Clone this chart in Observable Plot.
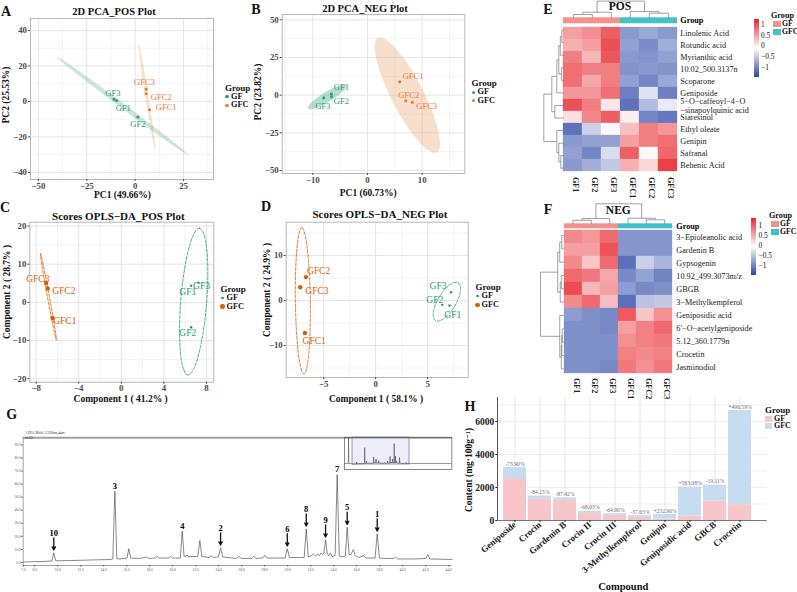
<!DOCTYPE html>
<html>
<head>
<meta charset="utf-8">
<script src="https://cdn.jsdelivr.net/npm/d3@7"></script>
<script src="https://cdn.jsdelivr.net/npm/@observablehq/plot@0.6"></script>
<style>
  html, body { margin: 0; padding: 0; background: #fff; }
  #fig { position: relative; width: 797px; height: 592px; overflow: hidden; background: #fff;
         font-family: "Liberation Serif", "Times New Roman", "DejaVu Serif", serif; }
  #fig svg { position: absolute; }
  .bt [aria-label$="tick label"] text { font-weight: bold; }
</style>
</head>
<body>
<div id="fig"></div>
<script>
// ---------------- data ----------------
const groups = ["GF", "GFC"];
const sampleNames = ["GF1", "GF2", "GF3", "GFC1", "GFC2", "GFC3"];
const sampleGroup = ["GF", "GF", "GF", "GFC", "GFC", "GFC"];

// PCA scores (positive / negative ion mode)
const pcaPosPC1 = [-9.6, 1.4, -11.0, 7.4, 5.7, 5.7];
const pcaPosPC2 = [0.5, -8.8, 1.3, -4.7, 4.3, 6.9];
const pcaNegPC1 = [-6.6, -6.6, -8.0, 5.9, 7.0, 8.2];
const pcaNegPC2 = [0.7, -1.1, -1.8, 8.8, -3.8, -4.8];

// OPLS-DA scores (positive / negative ion mode)
const oplsPosC1 = [6.56, 6.56, 7.25, -6.47, -6.91, -7.06];
const oplsPosC2 = [4.35, -6.5, 5.13, -4.1, 3.62, 5.05];
const oplsNegC1 = [7.1, 6.4, 7.25, -6.8, -6.7, -7.25];
const oplsNegC2 = [-1.1, -0.96, 1.85, -7.2, 5.2, 2.96];

// group confidence ellipses: centre, semi-major and semi-minor axis vectors
const pcaPosEllipses = [
  {group: "GF", center: [-6.4, -2.6], major: [34, -27.7], minor: [-0.78, -1.12]},
  {group: "GFC", center: [6.1, 2.46], major: [4.4, -30.4], minor: [0.77, 0.13]}
];
const pcaNegEllipses = [
  {group: "GF", center: [-7.35, -1.1], major: [3.51, 7.76], minor: [0.475, -2.83]},
  {group: "GFC", center: [7.3, 0], major: [5.36, -38], minor: [2.62, 4.84]}
];
const oplsPosEllipses = [
  {group: "GF", center: [6.8, 0.2], major: [0.53, 19.2], minor: [1.22, -0.05]},
  {group: "GFC", center: [-6.85, 1.45], major: [-0.75, 11.35], minor: [0.09, 0.05]}
];
const oplsNegEllipses = [
  {group: "GF", center: [6.85, -0.27], major: [1.09, 4.18], minor: [0.74, -1.03]},
  {group: "GFC", center: [-7.0, -0.1], major: [-0.1, 16.2], minor: [0.72, 0]}
];

// heatmap E (POS): scaled abundance, columns GF1..GFC3
const posMetabolites = ["Linolenic Acid", "Rotundic acid", "Myrianthic acid", "10.02_500.3137n", "Scoparone",
  "Geniposide", "5\u2212O\u2212caffeoyl\u22124\u2212O\n\u2212sinapoylquinic acid", "Siaresinol", "Ethyl oleate",
  "Genipin", "Safranal", "Behenic Acid"];
const posScaled = [
  [0.55, 0.65, 0.95, -0.8, -0.7, -0.8],
  [0.45, 0.55, 1.05, -0.75, -0.9, -0.65],
  [0.75, 0.4, 1.0, -0.8, -0.85, -0.75],
  [0.85, 0.75, 0.75, -0.85, -0.8, -0.85],
  [0.85, 0.5, 0.75, -0.75, -0.95, -0.7],
  [0.6, 0.6, 0.85, -1.0, -0.25, -1.0],
  [1.05, 0.75, 0.1, -1.1, -0.55, -0.2],
  [0.15, 0.7, 0.95, 0.05, -0.95, -1.05],
  [-1.1, -0.4, 0.0, 0.35, 0.75, 0.6],
  [-0.8, -0.75, -0.75, 0.55, 0.75, 0.85],
  [-0.75, -0.95, -0.3, 0.95, 0.0, 0.9],
  [-0.8, -0.65, -0.45, 0.45, 0.2, 1.15]
];
// hierarchical clustering merges: [childA, childB, height]
const posRowMerges = [[0, 1, 2], [12, 2, 3.5], [3, 4, 2.5], [13, 14, 5], [15, 5, 7], [6, 7, 9],
  [16, 17, 12], [10, 11, 3], [9, 19, 5], [8, 20, 7], [18, 21, 20]];
const posColMerges = [[0, 1, 3.3], [6, 2, 5.6], [4, 5, 4.6], [3, 8, 6.3], [7, 9, 16.8]];

// heatmap F (NEG)
const negMetabolites = ["3\u2212Epioleanolic acid", "Gardenin B", "Gypsogenin", "10.92_499.3073m/z", "GBGB",
  "3\u2212Methylkempferol", "Geniposidic acid", "6\u2032\u2212O\u2212acetylgeniposide", "5.12_360.1779n",
  "Crocetin", "Jasminodiol"];
const negScaled = [
  [0.75, 0.65, 0.95, -0.85, -0.85, -0.85],
  [0.6, 0.6, 1.1, -0.85, -0.85, -0.85],
  [0.75, 0.35, 0.95, -1.15, -0.4, -0.6],
  [0.95, 0.85, 0.55, -0.95, -0.75, -1.0],
  [1.15, 0.45, 0.6, -0.8, -0.95, -0.9],
  [0.75, 0.95, 0.4, -1.15, -0.5, -0.45],
  [-0.8, -0.9, -0.95, 1.05, 0.35, 0.7],
  [-0.9, -0.9, -0.95, 0.6, 0.8, 0.95],
  [-0.9, -0.9, -0.9, 0.7, 0.8, 0.85],
  [-0.9, -0.9, -0.9, 0.8, 0.75, 0.8],
  [-0.9, -0.9, -0.95, 0.85, 0.7, 0.85]
];
const negRowMerges = [[0, 1, 2], [11, 2, 4], [3, 4, 2.5], [13, 5, 3.5], [12, 14, 6], [7, 8, 1.5],
  [16, 9, 2], [17, 10, 2.5], [6, 18, 4], [15, 19, 23]];
const negColMerges = [[0, 1, 3.5], [6, 2, 5.3], [4, 5, 4], [3, 8, 5.6], [7, 9, 20]];

// HPLC chromatogram (retention time in min, absorbance in mAU)
const chromTime = [7.00, 8.94, 9.50, 9.66, 9.83, 11.11, 12.85, 14.59, 14.79, 14.97, 15.14, 15.46, 16.03, 16.18,
  16.35, 17.20, 17.72, 17.90, 18.50, 18.68, 18.85, 19.63, 19.81, 19.98, 20.66, 20.83, 20.99, 21.16, 21.26, 21.37,
  21.72, 22.18, 22.36, 22.53, 23.16, 23.35, 23.53, 23.97, 24.16, 24.36, 25.55, 25.75, 25.95, 26.85, 27.05, 27.25,
  27.81, 28.01, 28.21, 29.77, 29.96, 30.15, 31.43, 31.61, 31.79, 32.07, 32.24, 32.42, 32.59, 32.77, 32.90, 33.03,
  33.14, 33.29, 33.44, 33.59, 33.72, 33.85, 34.01, 34.12, 34.30, 34.48, 34.68, 35.01, 35.17, 35.34, 35.50, 35.70,
  35.88, 36.16, 36.62, 36.81, 37.59, 37.78, 37.97, 38.42, 39.20, 39.37, 39.55, 41.11, 42.03, 42.18, 42.36, 44.30];
const chromSignal = [0.4, 0.8, 1.2, 7.4, 1.3, 1.5, 1.9, 2.3, 2.7, 54.4, 2.8, 2.7, 3.4, 10.5,
  3.4, 3.1, 4.2, 3.1, 3.4, 4.6, 3.4, 3.4, 4.6, 3.4, 3.4, 23.9, 4.6, 5.0, 5.7, 4.2,
  4.6, 4.6, 16.8, 4.6, 3.8, 5.1, 3.8, 4.2, 11.2, 4.2, 3.1, 4.7, 3.1, 3.1, 4.7, 3.1,
  3.4, 5.6, 3.4, 3.4, 10.5, 3.8, 3.8, 25.7, 4.2, 5.3, 6.5, 5.0, 6.5, 5.3, 7.3, 6.1,
  6.9, 17.3, 6.5, 5.3, 7.3, 4.6, 5.0, 5.3, 67.2, 5.0, 4.2, 5.0, 27.0, 6.1, 6.1, 9.9,
  5.0, 3.8, 5.3, 3.4, 3.4, 21.9, 3.4, 3.1, 3.1, 4.2, 2.7, 2.7, 3.1, 6.1, 2.7, 2.3];
// full-run overview shown in the inset: solvent front before, flat tail after
const overviewLeadTime = [1.8, 4.2, 4.4, 4.6, 6.5];
const overviewLeadSignal = [2.5, 2.5, 86, 2.5, 2.0];
const overviewTailTime = [50, 72];
const overviewTailSignal = [2.5, 2.5];

const peakId = ["10", "3", "4", "2", "6", "8", "9", "7", "5", "1"];
const peakTime = [9.66, 14.97, 20.83, 24.16, 29.96, 31.61, 33.29, 34.30, 35.17, 37.78];
const peakSignal = [7.4, 54.4, 23.9, 11.2, 10.5, 25.7, 17.3, 67.2, 27.0, 21.9];
const peakArrow = [true, false, false, true, true, true, true, false, true, true];

// compound content (mg per 100 g)
const compounds = ["Geniposide", "Crocin", "Gardenin B", "Crocin II", "Crocin III", "3-Methylkempferol",
  "Genipin", "Geniposidic acid", "GBCB", "Crocetin"];
const gfContent = [2540, 1280, 1220, 427, 305, 185, 85, 260, 1190, 957];
const gfcContent = [662.9, 202.9, 153.5, 136.5, 107.06, 115.38, 283.02, 1776.0, 962.6, 5709.4];
const contentTicks = [0, 2000, 4000, 6000];

// ---------------- helpers ----------------
const FONT = '"Liberation Serif", "Times New Roman", "DejaVu Serif", serif';
const plotStyle = {background: "transparent", overflow: "visible", fontFamily: FONT, fontSize: "9px"};
const fig = document.getElementById("fig");

function place(node, left, top) {
  node.style.position = "absolute";
  node.style.left = left + "px";
  node.style.top = top + "px";
  fig.appendChild(node);
  return node;
}
function label(s, x, y, o = {}) {
  const d = document.createElement("div");
  d.textContent = s;
  const ax = o.anchor === "start" ? "0%" : o.anchor === "end" ? "-100%" : "-50%";
  Object.assign(d.style, {
    position: "absolute", left: x + "px", top: y + "px", whiteSpace: "pre", lineHeight: "1",
    fontSize: (o.size ?? 9) + "px", fontWeight: o.bold ? "bold" : "normal", color: o.color ?? "#111",
    transform: `translate(${ax},-50%)` + (o.rotate ? ` rotate(${o.rotate}deg)` : "")
  });
  fig.appendChild(d);
  return d;
}
function box(x, y, w, h, style) {
  const d = document.createElement("div");
  Object.assign(d.style, {position: "absolute", left: x + "px", top: y + "px", width: w + "px", height: h + "px"}, style);
  fig.appendChild(d);
}

// ---------------- score plots (A-D) ----------------
function scorePanel(o) {
  const pts = sampleNames.map((name, i) => ({name, group: sampleGroup[i], x: o.x[i], y: o.y[i]}));
  const col = g => o.colors[groups.indexOf(g)];
  const marks = [
    Plot.gridX({ticks: o.xMinor, stroke: "#f3f3f3", strokeOpacity: 1}),
    Plot.gridY({ticks: o.yMinor, stroke: "#f3f3f3", strokeOpacity: 1}),
    Plot.gridX({ticks: o.xTicks, stroke: "#e5e5e5", strokeOpacity: 1}),
    Plot.gridY({ticks: o.yTicks, stroke: "#e5e5e5", strokeOpacity: 1})
  ];
  for (const e of o.ellipses) {
    const ring = d3.range(97).map(k => {
      const t = 2 * Math.PI * k / 96, c = Math.cos(t), s = Math.sin(t);
      return {x: e.center[0] + c * e.major[0] + s * e.minor[0], y: e.center[1] + c * e.major[1] + s * e.minor[1]};
    });
    const gi = groups.indexOf(e.group);
    marks.push(Plot.line(ring, {
      x: "x", y: "y",
      fill: o.ellipseFill ? o.ellipseFill[gi] : "none", fillOpacity: o.ellipseOpacity ?? 1,
      stroke: o.ellipseStroke ? col(e.group) : "none", strokeWidth: 0.8, strokeDasharray: o.dash
    }));
  }
  marks.push(Plot.frame({stroke: "#b8b8b8"}));
  groups.forEach((g, gi) => marks.push(Plot.dot(pts.filter(p => p.group === g),
    {x: "x", y: "y", r: o.r[gi], fill: col(g), stroke: "none"})));
  pts.forEach((p, i) => marks.push(Plot.text([p], {
    x: "x", y: "y", text: "name", fill: col(p.group), fontSize: o.labelSize,
    dx: o.labelNudge[i][0], dy: o.labelNudge[i][1]
  })));
  marks.push(Plot.axisX({ticks: o.xTicks, tickSize: 2, tickPadding: 1, fontSize: 8.8, color: "#4a4a4a", label: null}));
  marks.push(Plot.axisY({ticks: o.yTicks, tickSize: 2, tickPadding: 1.5, fontSize: 8.8, color: "#4a4a4a", label: null}));
  const svg = Plot.plot({
    width: o.w, height: o.h,
    marginLeft: o.m[0], marginTop: o.m[1], marginRight: o.m[2], marginBottom: o.m[3],
    x: {domain: o.xDomain}, y: {domain: o.yDomain}, style: plotStyle, marks
  });
  svg.classList.add("bt");
  place(svg, o.left, o.top);

  label(o.title, o.titlePos[0], o.titlePos[1], {bold: true, size: o.titleSize});
  label(o.xLabel, o.xLabelPos[0], o.xLabelPos[1], {bold: true, size: 9.5});
  label(o.yLabel, o.yLabelPos[0], o.yLabelPos[1], {bold: true, size: 9.5, rotate: -90});
  // group legend
  const [lx, ly] = o.legendPos;
  label("Group", lx, ly, {bold: true, size: 9, anchor: "start"});
  groups.forEach((g, gi) => {
    const yy = ly + o.legendGap * (gi + 1);
    const r = o.r[gi];
    box(lx + 2 - r, yy - r, 2 * r, 2 * r, {borderRadius: "50%", background: o.colors[gi]});
    label(g, lx + 6, yy, {bold: true, size: 8.3, anchor: "start"});
  });
}

const pcaColors = ["#2f9f74", "#e5803a"];
const oplsColors = ["#1b9e77", "#d95f02"];

scorePanel({
  left: 0, top: 0, w: 265, h: 200, m: [30, 18, 52, 21],
  x: pcaPosPC1, y: pcaPosPC2, ellipses: pcaPosEllipses,
  xDomain: [-54.1, 40.5], yDomain: [-44, 46.7],
  xTicks: [-50, -25, 0, 25], yTicks: [-40, -20, 0, 20, 40],
  xMinor: [-37.5, -12.5, 12.5, 37.5], yMinor: [-30, -10, 10, 30],
  colors: pcaColors, ellipseFill: ["#2f9f74", "#e5803a"], ellipseOpacity: 0.25,
  r: [1.6, 1.6], labelSize: 8.5,
  labelNudge: [[6.7, 7.6], [0, 7], [-1, -6], [16.7, -2.3], [15, 3.3], [-1.7, -6.7]],
  title: "2D PCA_POS Plot", titlePos: [114, 12.3], titleSize: 10.5,
  xLabel: "PC1 (49.66%)", xLabelPos: [122.5, 196],
  yLabel: "PC2 (25.53%)", yLabelPos: [7, 95],
  legendPos: [225, 88], legendGap: 8.7
});

scorePanel({
  left: 265, top: 0, w: 265, h: 200, m: [16.7, 14, 65.7, 27],
  x: pcaNegPC1, y: pcaNegPC2, ellipses: pcaNegEllipses,
  xDomain: [-15.6, 17.8], yDomain: [-52, 53.5],
  xTicks: [-10, 0, 10], yTicks: [-50, -25, 0, 25, 50],
  xMinor: [-15, -5, 5, 15], yMinor: [-37.5, -12.5, 12.5, 37.5],
  colors: pcaColors, ellipseFill: ["#2f9f74", "#eca46a"], ellipseOpacity: 0.35,
  r: [1.6, 1.6], labelSize: 8.5,
  labelNudge: [[10, -6.7], [10, 4], [-1, 8.3], [13.3, -5.7], [3, -5.7], [14.4, 4.4]],
  title: "2D PCA_NEG Plot", titlePos: [365, 8.7], titleSize: 10.5,
  xLabel: "PC1 (60.73%)", xLabelPos: [368.3, 193.5],
  yLabel: "PC2 (23.82%)", yLabelPos: [259, 92],
  legendPos: [471.5, 83.3], legendGap: 8.8
});

scorePanel({
  left: 0, top: 195, w: 265, h: 210, m: [29.3, 26.7, 51.7, 23.3],
  x: oplsPosC1, y: oplsPosC2, ellipses: oplsPosEllipses,
  xDomain: [-8.6, 8.69], yDomain: [-20.9, 21],
  xTicks: [-8, -4, 0, 4, 8], yTicks: [-20, -10, 0, 10, 20],
  xMinor: [-6, -2, 2, 6], yMinor: [-15, -5, 5, 15],
  colors: oplsColors, ellipseStroke: true, dash: "3,1.6",
  r: [1.2, 2.2], labelSize: 9.5,
  labelNudge: [[-3.4, 6.6], [-3.4, 6], [3, 3], [12.3, 3], [16, 2.2], [-8.4, -4.5]],
  title: "Scores OPLS\u2212DA_POS Plot", titlePos: [118.3, 215.7], titleSize: 11,
  xLabel: "Component 1 ( 41.2% )", xLabelPos: [120.7, 399.5],
  yLabel: "Component 2 ( 28.7% )", yLabelPos: [7.5, 292],
  legendPos: [220.5, 289], legendGap: 8.8
});

scorePanel({
  left: 265, top: 195, w: 265, h: 210, m: [20.7, 26.7, 62.3, 28],
  x: oplsNegC1, y: oplsNegC2, ellipses: oplsNegEllipses,
  xDomain: [-8.6, 8.9], yDomain: [-17.1, 17.4],
  xTicks: [-5, 0, 5], yTicks: [-10, 0, 10],
  xMinor: [-7.5, -2.5, 2.5, 7.5], yMinor: [-15, -5, 5, 15],
  colors: oplsColors, ellipseStroke: true, dash: "3,1.6",
  r: [1.2, 2.2], labelSize: 9.5,
  labelNudge: [[3.3, 9], [-7.4, -5.3], [-13, -6], [9.3, 8.4], [12.6, -5.7], [16.7, 3.3]],
  title: "Scores OPLS\u2212DA_NEG Plot", titlePos: [380, 214.3], titleSize: 11,
  xLabel: "Component 1 ( 58.1% )", xLabelPos: [376, 399.5],
  yLabel: "Component 2 ( 24.9% )", yLabelPos: [268, 290],
  legendPos: [475.5, 287.2], legendGap: 9
});

// ---------------- clustered heatmaps (E, F) ----------------
const heatLow = "#2b47a6", heatMid = "#ffffff", heatHigh = "#e8262b";
const groupFill = ["#f4928a", "#45c0c6"];

function dendroSegments(merges, n) {
  const pos = d3.range(n), hgt = d3.range(n).map(() => 0), segs = [];
  for (const [a, b, h] of merges) {
    segs.push({p1: pos[a], p2: pos[a], h1: hgt[a], h2: h});
    segs.push({p1: pos[b], p2: pos[b], h1: hgt[b], h2: h});
    segs.push({p1: pos[a], p2: pos[b], h1: h, h2: h});
    pos.push((pos[a] + pos[b]) / 2);
    hgt.push(h);
  }
  return segs;
}

function heatmapPanel(o) {
  const W = o.w, H = o.h;
  const cells = o.rows.flatMap((row, i) => sampleNames.map((sample, j) => ({row, sample, v: o.values[i][j]})));
  // cells, row names, column names
  place(Plot.plot({
    width: W, height: H, style: plotStyle,
    marginLeft: o.cx0, marginRight: W - o.cx1, marginTop: o.cy0, marginBottom: H - o.cy1,
    x: {domain: sampleNames, padding: 0, axis: null},
    y: {domain: o.rows, padding: 0, axis: null},
    color: {type: "linear", domain: o.colorDomain, range: [heatLow, heatMid, heatHigh], clamp: true},
    marks: [
      Plot.cell(cells, {x: "sample", y: "row", fill: "v", stroke: "v", strokeWidth: 0.3}),
      Plot.text(o.rows, {y: d => d, text: d => d, frameAnchor: "right", textAnchor: "start", dx: 2.5,
        fontSize: 8.2, fill: "#222", lineHeight: 1.05}),
      Plot.text(sampleNames, {x: d => d, text: d => d, frameAnchor: "bottom", rotate: 90, textAnchor: "start",
        dy: 2.5, fontSize: 8.2, fontWeight: "bold", fill: "#222"})
    ]
  }), o.left, o.top);
  // group annotation bar
  place(Plot.plot({
    width: W, height: H, style: plotStyle,
    marginLeft: o.cx0, marginRight: W - o.cx1, marginTop: o.gy0, marginBottom: H - o.cy0,
    x: {domain: sampleNames, padding: 0, axis: null},
    color: {domain: groups, range: groupFill},
    marks: [
      Plot.cell(sampleNames.map((s, i) => ({s, g: sampleGroup[i]})), {x: "s", fill: "g"}),
      Plot.text(["Group"], {frameAnchor: "right", textAnchor: "start", dx: 2.5, fontSize: 8.2, fontWeight: "bold"})
    ]
  }), o.left, o.top);
  // row dendrogram
  const rowSegs = dendroSegments(o.rowMerges, o.rows.length);
  const rowMax = d3.max(o.rowMerges, d => d[2]);
  place(Plot.plot({
    width: W, height: H, style: plotStyle,
    x: {domain: [0, rowMax], range: [o.cx0, o.rowRootX], axis: null},
    y: {domain: [-0.5, o.rows.length - 0.5], range: [o.cy0, o.cy1], axis: null},
    marks: [Plot.link(rowSegs, {x1: "h1", x2: "h2", y1: "p1", y2: "p2", stroke: "#7a7a7a", strokeWidth: 0.7})]
  }), o.left, o.top);
  // column dendrogram
  const colSegs = dendroSegments(o.colMerges, sampleNames.length);
  const colMax = d3.max(o.colMerges, d => d[2]);
  place(Plot.plot({
    width: W, height: H, style: plotStyle,
    x: {domain: [-0.5, sampleNames.length - 0.5], range: [o.cx0, o.cx1], axis: null},
    y: {domain: [0, colMax], range: [o.gy0, o.colRootY], axis: null},
    marks: [Plot.link(colSegs, {x1: "p1", x2: "p2", y1: "h1", y2: "h2", stroke: "#7a7a7a", strokeWidth: 0.7})]
  }), o.left, o.top);

  label(o.title, o.titlePos[0], o.titlePos[1], {bold: true, size: 11.5});
  // colour key
  const [bx, by, bw, bh] = o.bar;
  box(bx, by, bw, bh, {background: `linear-gradient(to bottom, ${heatHigh}, ${heatMid} 50%, ${heatLow})`});
  o.barTicks.forEach(([t, yy]) => label(t, bx + bw + 2.5, yy, {size: 7.4, anchor: "start"}));
  // group key
  const [gx, gy] = o.groupKey;
  label("Group", gx, gy, {bold: true, size: 8.2, anchor: "start"});
  groups.forEach((g, gi) => {
    const yy = gy + 8 * (gi + 1);
    box(gx + 1.5, yy - 3, 8, 6, {background: groupFill[gi]});
    label(g, gx + 11, yy, {bold: true, size: 7.8, anchor: "start"});
  });
}

heatmapPanel({
  left: 530, top: 0, w: 267, h: 195,
  rows: posMetabolites, values: posScaled, rowMerges: posRowMerges, colMerges: posColMerges,
  cx0: 33.3, cx1: 147.3, cy0: 23.3, cy1: 174, gy0: 17.3, rowRootX: 13.3, colRootY: 0.6,
  colorDomain: [-1.42, -0.05, 1.31],
  title: "POS", titlePos: [620, 6.5],
  bar: [754, 19, 4.5, 57.7],
  barTicks: [["1", 25], ["0.5", 35.5], ["0", 46.3], ["\u22120.5", 57], ["\u22121", 67.7]],
  groupKey: [771, 15.5]
});

heatmapPanel({
  left: 530, top: 195, w: 267, h: 200,
  rows: negMetabolites, values: negScaled, rowMerges: negRowMerges, colMerges: negColMerges,
  cx0: 33.3, cx1: 143.3, cy0: 33.3, cy1: 180, gy0: 28.3, rowRootX: 10, colRootY: 8.3,
  colorDomain: [-1.47, -0.03, 1.4],
  title: "NEG", titlePos: [618.3, 210.5],
  bar: [750.7, 217.7, 5.3, 57.3],
  barTicks: [["1", 225.7], ["0.5", 236.2], ["0", 246.2], ["\u22120.5", 256.2], ["\u22121", 265.7]],
  groupKey: [769, 216.2]
});

// ---------------- chromatogram (G) ----------------
const trace = chromTime.map((t, i) => ({t, v: chromSignal[i]}));
const peaks = peakId.map((id, i) => ({id, t: peakTime[i], h: peakSignal[i], arrow: peakArrow[i]}));
const gX = [7, 44.3], gY = [-2.3, 95.4];

place(Plot.plot({
  width: 460, height: 150, style: plotStyle,
  marginLeft: 22.7, marginTop: 12.3, marginRight: 8.3, marginBottom: 10,
  x: {domain: gX}, y: {domain: gY},
  marks: [
    Plot.ruleY([gY[0]], {stroke: "#666", strokeWidth: 0.6}),
    Plot.ruleX([gX[0]], {stroke: "#666", strokeWidth: 0.6}),
    Plot.ruleY([gY[1]], {stroke: "#a0a0a0", strokeWidth: 2}),
    Plot.axisY({ticks: d3.range(0, 100, 10), tickSize: 1.5, tickPadding: 1, fontSize: 3.6,
      tickFormat: d3.format(".1f"), color: "#555", label: null}),
    Plot.axisX({ticks: [7, ...d3.range(8, 45, 2)], tickSize: 1.5, tickPadding: 1, fontSize: 3.6,
      tickFormat: d3.format(".1f"), color: "#555", label: null}),
    Plot.line(trace, {x: "t", y: "v", stroke: "#3a3a3a", strokeWidth: 0.6}),
    Plot.text(peaks.filter(p => !p.arrow), {x: "t", y: "h", text: "id", dy: -5, fontSize: 8.5, fontWeight: "bold"}),
    Plot.text(peaks.filter(p => p.arrow), {x: "t", y: "h", text: "id", dy: -20, fontSize: 8.5, fontWeight: "bold"}),
    Plot.arrow(peaks.filter(p => p.arrow), {x: "t", y1: d => d.h + 11.5, y2: d => d.h + 2.2,
      stroke: "#111", strokeWidth: 1.3, headLength: 4, headAngle: 55})
  ]
}), 0, 425);

// overview inset
const overview = [
  ...overviewLeadTime.map((t, i) => ({t, v: overviewLeadSignal[i]})),
  ...trace,
  ...overviewTailTime.map((t, i) => ({t, v: overviewTailSignal[i]}))
];
const oX = [1.76, 72.05], oY = [-17, 87.2];
place(Plot.plot({
  width: 107.4, height: 32, style: plotStyle,
  marginLeft: 0, marginTop: 0, marginRight: 0, marginBottom: 0,
  x: {domain: oX, axis: null}, y: {domain: oY, axis: null},
  marks: [
    Plot.rect([gX], {x1: d => d[0], x2: d => d[1], y1: -0.8, y2: oY[1],
      fill: "#c8c8ee", fillOpacity: 0.3, stroke: "#7d7dc9", strokeWidth: 0.8}),
    Plot.line(overview, {x: "t", y: "v", stroke: "#333", strokeWidth: 0.5, clip: true}),
    Plot.frame({stroke: "#555", strokeWidth: 0.7})
  ]
}), 344.3, 437.3);

label("1 PDA Multi 1/238nm,4nm", 25, 434.2, {size: 3.6, anchor: "start", color: "#333"});
label("mAU", 25, 438.6, {size: 3.6, anchor: "start", color: "#333"});

// ---------------- content bar chart (H) ----------------
const contentRows = compounds.flatMap((c, i) => [
  {compound: c, group: "GF", value: gfContent[i]},
  {compound: c, group: "GFC", value: gfcContent[i]}
]);
const changeRows = compounds.map((c, i) => ({
  compound: c, total: gfContent[i] + gfcContent[i],
  change: (gfcContent[i] - gfContent[i]) / gfContent[i] * 100
}));
const fmtChange = p => (p > 0 ? "+" : "-") + Math.abs(p).toFixed(2) + "%";
const barFill = ["#f8c5c8", "#c6ddf1"];

const hSvg = Plot.plot({
  width: 377, height: 207, style: plotStyle,
  marginLeft: 77.3, marginTop: 11.7, marginRight: 30.3, marginBottom: 72,
  x: {domain: compounds, range: [77.3, 337], paddingInner: 0.08, paddingOuter: 0.04},
  y: {domain: [0, 7473]},
  color: {domain: groups, range: barFill},
  marks: [
    Plot.gridY({ticks: [1000, 2000, 3000, 4000, 5000, 6000, 7000], stroke: "#efefef", strokeOpacity: 1}),
    Plot.gridX({stroke: "#e6e6e6", strokeOpacity: 1}),
    Plot.barY(contentRows, {x: "compound", y: "value", fill: "group", order: groups}),
    Plot.text(changeRows, {x: "compound", y: "total", text: d => fmtChange(d.change), dy: -3.5,
      fontSize: 5.6, fill: "#707070"}),
    Plot.ruleY([0], {stroke: "#555", strokeWidth: 0.8}),
    Plot.axisY({ticks: contentTicks, tickFormat: d3.format("d"), tickSize: 2, tickPadding: 1.5, fontSize: 9.5,
      color: "#222", label: null}),
    Plot.axisX({tickRotate: -40, tickSize: 2, tickPadding: 1, fontSize: 9, color: "#222", label: null})
  ]
});
hSvg.classList.add("bt");
place(hSvg, 420, 385);
box(497, 396.7, 0.8, 123.6, {background: "#555"});
label("Content (mg\u00b7100g\u207b\u00b9)", 470, 470, {bold: true, size: 9.5, rotate: -90});
label("Compound", 623.3, 586.5, {bold: true, size: 10.5});
label("Group", 765, 410, {bold: true, size: 9, anchor: "start"});
groups.forEach((g, gi) => {
  const yy = 418.8 + gi * 7.6;
  box(765, yy - 3, 7, 6, {background: barFill[gi]});
  label(g, 774, yy, {bold: true, size: 8, anchor: "start"});
});

// ---------------- panel letters ----------------
[["A", 6, 12], ["B", 256, 10], ["C", 5, 208], ["D", 266, 207], ["E", 548, 10], ["F", 548, 210],
 ["G", 11.7, 415], ["H", 470, 407]].forEach(([s, x, y]) => label(s, x, y, {bold: true, size: 14}));
</script>
</body>
</html>
